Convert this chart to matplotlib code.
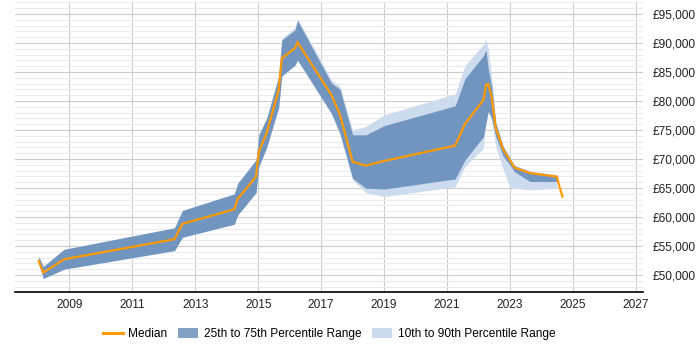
import numpy as np
import matplotlib
matplotlib.use("Agg")
import matplotlib.pyplot as plt
from matplotlib.lines import Line2D
from matplotlib.patches import Patch
from matplotlib.ticker import MultipleLocator, FuncFormatter

# Dates as decimal years, values in GBP
dates = [2008.02, 2008.17, 2008.83, 2012.34, 2012.59, 2014.24, 2014.35, 2014.93,
         2015.02, 2015.27, 2015.65, 2015.75, 2016.17, 2016.25, 2017.33, 2017.60,
         2018.00, 2018.42, 2019.01, 2021.26, 2021.57, 2022.16, 2022.24, 2022.31,
         2022.42, 2022.55, 2022.79, 2023.00, 2023.14, 2023.64, 2024.49, 2024.56,
         2024.67]

median = [52400, 50400, 52700, 56150, 58800, 61300, 63100, 66950,
          71250, 74500, 81900, 87350, 89100, 90100, 81000, 77600,
          69500, 68850, 69650, 72300, 76000, 80200, 82750, 82900,
          80750, 75300, 71550, 69800, 68500, 67550, 66950, 65500,
          63500]

p75 = [53150, 51450, 54400, 58100, 61100, 63950, 65800, 69800,
       74150, 77000, 84200, 90500, 92250, 93850, 83050, 82000,
       74150, 74150, 75750, 79150, 83800, 87800, 88800, 85500,
       82450, 76150, 72100, 70100, 68850, 67800, 67050, np.nan,
       np.nan]

p25 = [52000, 49400, 51000, 54200, 56500, 58750, 60350, 64200,
       68700, 72000, 78900, 84300, 86200, 87050, 77850, 74400,
       66650, 64950, 64800, 66550, 69800, 73850, 76150, 78150,
       77000, 73850, 70400, 68950, 67800, 66100, 66100, np.nan,
       np.nan]

p90 = [53200, 51500, 54450, 58150, 61150, 64000, 65850, 69850,
       74200, 77100, 84400, 90800, 92700, 94250, 83600, 82500,
       75000, 75600, 77600, 81200, 86100, 89750, 90700, 89100,
       84200, 76450, 72100, 70400, 68850, 67950, 67250, np.nan,
       np.nan]

p10 = [51950, 49350, 50950, 54150, 56450, 58700, 60300, 64150,
       68650, 71950, 78800, 84200, 86100, 86950, 77700, 74000,
       66400, 64200, 63500, 65200, 68700, 71850, 77600, 78450,
       76700, 72100, 68100, 65050, 64950, 64650, 64950, np.nan,
       np.nan]

x_ticks = [2009, 2011, 2013, 2015, 2017, 2019, 2021, 2023, 2025, 2027]

orange = "#FF9900"
dark = "#7195BF"
light = "#CCDCEE"

plt.rcParams["font.family"] = ["Liberation Sans", "DejaVu Sans"]
fs = 8.6

fig = plt.figure(figsize=(7, 3.5), dpi=100)
ax = fig.add_axes([15 / 700, (350 - 292.3) / 350, 627.7 / 700, 290 / 350])

x = np.array(dates)
ax.fill_between(x, p10, p90, color=light, linewidth=0, zorder=2)
ax.fill_between(x, p25, p75, color=dark, linewidth=0, zorder=3)
ax.plot(x, median, color=orange, linewidth=1.6, zorder=4,
        solid_joinstyle="miter")

ax.set_xlim(2007.27, 2027.22)
ax.set_ylim(47000, 97000)

ax.set_xticks(x_ticks)
ax.xaxis.set_major_formatter(FuncFormatter(lambda v, p: f"{int(v)}"))
ax.yaxis.set_major_locator(MultipleLocator(5000))
ax.yaxis.set_minor_locator(MultipleLocator(1000))
ax.yaxis.set_major_formatter(FuncFormatter(lambda v, p: f"£{int(v):,}"))
ax.yaxis.tick_right()

ax.tick_params(axis="x", length=0, pad=5, labelsize=fs, colors="#222222")
ax.tick_params(axis="y", which="both", length=0, pad=7, labelsize=fs,
               colors="#222222")

ax.grid(axis="x", color="#cccccc", linewidth=0.8, zorder=0)
ax.grid(axis="y", which="major", color="#cccccc", linewidth=0.8, zorder=0)
ax.grid(axis="y", which="minor", color="#ebebeb", linewidth=0.8, zorder=0)
ax.set_axisbelow(True)

for side in ["left", "right", "top"]:
    ax.spines[side].set_visible(False)
ax.spines["bottom"].set_color("black")
ax.spines["bottom"].set_linewidth(1.2)

handles = [
    Line2D([0], [0], color=orange, linewidth=2.2),
    Patch(facecolor="#84A2C4", edgecolor="none"),
    Patch(facecolor=light, edgecolor="none"),
]
labels = ["Median", "25th to 75th Percentile Range", "10th to 90th Percentile Range"]
fig.legend(handles, labels, loc="center", bbox_to_anchor=(329 / 700, 1 - 334 / 350),
           ncol=3, frameon=False, fontsize=fs, handlelength=1.7, handleheight=1.0,
           handletextpad=0.45, columnspacing=0.9)

fig.savefig("out.png", dpi=100)
